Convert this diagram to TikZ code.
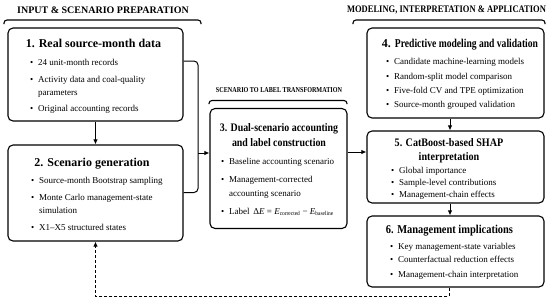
\documentclass[tikz,border=0pt]{standalone}
\usepackage{fontspec}
\usepackage{graphicx}
\setmainfont{Liberation Serif}
\usetikzlibrary{arrows.meta}
\newcommand\hsc[2]{\scalebox{#1}[1]{#2}}
\newcommand\bul{\llap{\textbullet\hspace{5pt}}}
\begin{document}
\begin{tikzpicture}[x=1pt,y=-1pt,
  box/.style={draw, rounded corners=5pt, line width=1.1pt, inner sep=0pt},
  ttl/.style={font=\bfseries\fontsize{12}{14}\selectfont, inner sep=0pt, anchor=base},
  itm/.style={font=\fontsize{9}{11}\selectfont, inner sep=0pt, anchor=base west},
  hdr/.style={font=\bfseries\fontsize{10}{12}\selectfont, inner sep=0pt, anchor=base},
  brace/.style={line width=1.1pt, rounded corners=3pt},
  arr/.style={-{Latex[length=5pt,width=4.5pt]}, line width=1pt},
  con/.style={line width=1pt, rounded corners=4pt}]
\useasboundingbox (0,0) rectangle (550,301);

% headers and braces
\node[hdr] (h1) at (103,13) {INPUT \& SCENARIO PREPARATION};
\draw[brace] (4,24) -- (4,20) -- (201,20) -- (201,24);
\node[hdr] (h3) at (446.5,12.5) {\hsc{0.85}{MODELING, INTERPRETATION \& APPLICATION}};
\draw[brace] (353,24) -- (353,20) -- (545,20) -- (545,24);
\node[hdr, font=\bfseries\fontsize{7.5}{9}\selectfont] (h2) at (279,92.5) {\hsc{0.82}{SCENARIO TO LABEL TRANSFORMATION}};
\draw[brace] (209,104) -- (209,100.5) -- (347,100.5) -- (347,104);

% boxes
\node[box, minimum width=175pt, minimum height=93pt] (b1) at (95.5,74.5) {};
\node[box, minimum width=175pt, minimum height=96pt] (b2) at (95.5,193) {};
\node[box, minimum width=137pt, minimum height=120pt] (b3) at (278.5,168.5) {};
\node[box, minimum width=177pt, minimum height=90pt] (b4) at (455.5,73) {};
\node[box, minimum width=177pt, minimum height=72pt] (b5) at (455.5,167) {};
\node[box, minimum width=177pt, minimum height=71pt] (b6) at (455.5,251.5) {};

% box 1
\node[ttl] (t1) at (93.5,47) {1. Real source-month data};
\node[itm] (i1a) at (38,65.5) {\bul 24 unit-month records};
\node[itm] (i1b) at (38,82.5) {\bul Activity data and coal-quality};
\node[itm] (i1c) at (38,95) {parameters};
\node[itm] (i1d) at (38,111) {\bul Original accounting records};

% box 2
\node[ttl] (t2) at (92,166) {2. Scenario generation};
\node[itm] (i2a) at (39,183.5) {\bul Source-month Bootstrap sampling};
\node[itm] (i2b) at (39,200.5) {\bul Monte Carlo management-state};
\node[itm] (i2c) at (39,213.5) {simulation};
\node[itm] (i2d) at (39,230) {\bul X1\textendash X5 structured states};

% box 3
\node[ttl, font=\bfseries\fontsize{11.5}{13}\selectfont] (t3a) at (279,131) {\hsc{0.86}{3. Dual-scenario accounting}};
\node[ttl, font=\bfseries\fontsize{11.5}{13}\selectfont] (t3b) at (279,146) {\hsc{0.86}{and label construction}};
\node[itm] (i3a) at (229,164) {\bul Baseline accounting scenario};
\node[itm] (i3b) at (229,182) {\bul Management-corrected};
\node[itm] (i3c) at (229,196) {accounting scenario};
\node[itm] (i3d) at (229,214.5) {\bul Label \,Δ\textit{E} = \textit{E}\textsubscript{\hsc{0.9}{corrected}} − \textit{E}\textsubscript{\hsc{0.9}{baseline}}};

% box 4
\node[ttl, font=\bfseries\fontsize{12}{14}\selectfont] (t4) at (460,47.5) {4. \hsc{0.8}{Predictive modeling and validation}};
\node[itm] (i4a) at (394,64) {\bul Candidate machine-learning models};
\node[itm] (i4b) at (394,79) {\bul Random-split model comparison};
\node[itm] (i4c) at (394,93) {\bul Five-fold CV and TPE optimization};
\node[itm] (i4d) at (394,107) {\bul Source-month grouped validation};

% box 5
\node[ttl, font=\bfseries\fontsize{11.5}{13}\selectfont] (t5a) at (449,146) {\hsc{0.88}{5. CatBoost-based SHAP}};
\node[ttl, font=\bfseries\fontsize{11.5}{13}\selectfont] (t5b) at (449,160.5) {\hsc{0.88}{interpretation}};
\node[itm] (i5a) at (399,173.5) {\bul Global importance};
\node[itm] (i5b) at (399,185.5) {\bul Sample-level contributions};
\node[itm] (i5c) at (399,197) {\bul Management-chain effects};

% box 6
\node[ttl, font=\bfseries\fontsize{12}{14}\selectfont] (t6) at (449.5,233.5) {\hsc{0.87}{6. Management implications}};
\node[itm] (i6a) at (398,249) {\bul Key management-state variables};
\node[itm] (i6b) at (398,262.5) {\bul Counterfactual reduction effects};
\node[itm] (i6c) at (398,277) {\bul Management-chain interpretation};

% connectors
\coordinate (m1) at (198,61);
\coordinate (m2) at (198,192.5);
\coordinate (mj) at (198,153);
\coordinate (d1) at (449,296);
\coordinate (d2) at (95.5,296);
\draw[arr] (b1.south) -- (b2.north);
\draw[con] (b1.east |- m1) -- (m1) -- (m2) -- (b2.east |- m2);
\draw[arr] (mj) -- (b3.west |- mj);
\draw[arr] (b3.east |- 0,152) -- (b5.west |- 0,152);
\draw[arr] (b4.south -| 450,0) -- (b5.north -| 450,0);
\draw[arr] (b5.south -| 450,0) -- (b6.north -| 450,0);
\draw[arr, dashed, dash pattern=on 3pt off 2pt] (b6.south -| d1) -- (d1) -- (d2) -- (b2.south);
\end{tikzpicture}
\end{document}
